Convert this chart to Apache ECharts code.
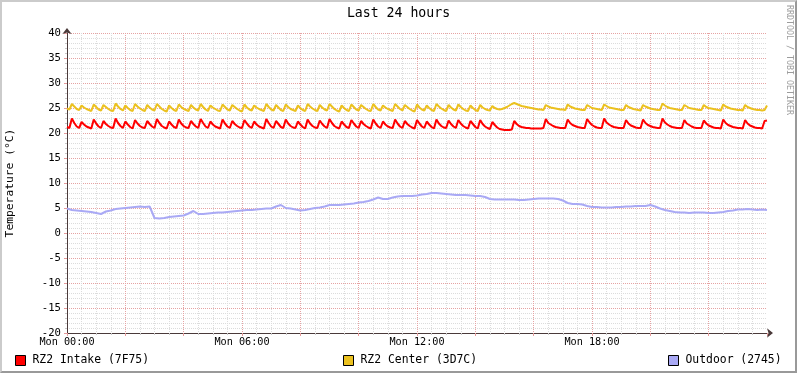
<!DOCTYPE html>
<html>
<head>
<meta charset="utf-8">
<script src="https://cdn.jsdelivr.net/npm/echarts@6/dist/echarts.min.js"></script>
<style>
  html, body { margin: 0; padding: 0; background: #fff; }
  #wrap { position: relative; width: 797px; height: 373px; }
  #c { position: absolute; left: 0; top: 0; width: 797px; height: 373px; }
  #frame { position: absolute; left: 0; top: 0; width: 797px; height: 373px; box-sizing: border-box;
    border-top: 2px solid #cbcbcb; border-left: 2px solid #cbcbcb;
    border-right: 2px solid #999; border-bottom: 2px solid #999; pointer-events: none; }
</style>
</head>
<body>
<div id="wrap"><div id="c"></div><div id="frame"></div></div>
<script>
// ---- data (5-minute samples for the two rack sensors, 10-minute samples for outdoor) ----
const seriesNames = ['RZ2 Intake (7F75)', 'RZ2 Center (3D7C)', 'Outdoor (2745)'];
const xTickLabels = ['Mon 00:00', 'Mon 06:00', 'Mon 12:00', 'Mon 18:00'];
const rackStepMinutes = 5;
const outdoorStepMinutes = 10;

const intake = [
  21.2,21.0,
  22.9,22.0,21.3,21.0,
  22.2,21.7,21.3,21.1,20.9,
  22.7,21.9,21.3,21.0,
  22.4,21.8,21.4,21.1,21.0,
  22.9,22.0,21.4,21.0,
  22.3,21.7,21.2,20.9,
  22.6,21.9,21.4,21.1,21.0,
  22.4,21.8,21.3,21.0,
  22.8,22.0,21.4,21.1,20.9,
  22.3,21.7,21.2,21.0,
  22.7,21.9,21.4,21.1,21.0,
  22.4,21.8,21.3,21.0,
  22.8,22.0,21.3,21.0,
  22.3,21.7,21.3,21.1,20.9,
  22.7,21.9,21.3,21.0,
  22.4,21.8,21.4,21.1,21.0,
  22.6,21.9,21.3,21.0,
  22.3,21.7,21.3,21.1,20.9,
  22.8,22.0,21.3,21.0,
  22.4,21.8,21.2,21.0,
  22.7,21.9,21.4,21.1,21.0,
  22.3,21.7,21.2,20.9,
  22.7,21.9,21.4,21.1,21.0,
  22.5,21.8,21.3,21.0,
  22.8,22.0,21.4,21.1,20.9,
  22.3,21.7,21.2,21.0,
  22.6,21.9,21.3,21.0,
  22.4,21.8,21.4,21.1,20.9,
  22.7,21.9,21.3,21.0,
  22.3,21.7,21.3,21.1,21.0,
  22.7,21.9,21.3,21.0,
  22.4,21.8,21.4,21.1,20.9,
  22.6,21.9,21.3,21.0,
  22.3,21.7,21.2,20.9,
  22.7,21.9,21.4,21.1,21.0,
  22.5,21.8,21.3,21.0,
  22.6,21.9,21.4,21.1,20.9,
  22.4,21.8,21.2,20.9,
  22.6,21.8,21.3,21.0,20.8,
  22.2,21.6,21.1,20.8,
  20.7,20.6,20.6,20.6,20.7,
  22.4,
  21.8,21.4,21.2,21.1,21.0,21.0,20.9,20.9,20.9,20.9,20.9,21.0,
  22.8,22.0,21.7,21.4,21.2,21.1,21.0,21.0,21.0,
  22.7,22.0,21.6,21.4,21.2,21.1,21.0,21.0,
  22.8,22.1,21.6,21.3,21.1,21.0,21.0,
  22.9,22.1,21.7,21.4,21.2,21.1,21.0,21.0,21.0,
  22.6,21.9,21.5,21.3,21.1,21.0,21.0,
  22.7,22.0,21.6,21.4,21.2,21.1,21.0,21.0,
  22.9,22.1,21.7,21.4,21.2,21.1,21.0,21.0,21.0,
  22.6,21.9,21.6,21.3,21.1,21.0,21.0,21.0,
  22.5,21.9,21.5,21.3,21.1,21.0,21.0,20.9,
  22.7,22.0,21.6,21.4,21.2,21.1,21.0,21.0,20.9,
  22.6,21.9,21.5,21.3,21.1,21.0,21.0,20.9,
  22.4,22.5
];

const center = [
  24.9,24.7,
  25.8,25.3,24.8,24.6,
  25.5,25.1,24.8,24.6,24.4,
  25.7,25.2,24.7,24.5,
  25.6,25.2,24.8,24.5,24.4,
  25.9,25.3,24.8,24.5,
  25.5,25.0,24.6,24.4,
  25.8,25.3,24.9,24.6,24.4,
  25.6,25.1,24.7,24.5,
  25.8,25.3,24.8,24.5,24.3,
  25.5,25.0,24.6,24.4,
  25.7,25.2,24.8,24.6,24.4,
  25.6,25.1,24.7,24.5,
  25.8,25.2,24.7,24.4,
  25.5,25.1,24.8,24.5,24.4,
  25.7,25.2,24.7,24.5,
  25.6,25.2,24.8,24.5,24.3,
  25.7,25.1,24.7,24.5,
  25.5,25.1,24.8,24.6,24.4,
  25.8,25.2,24.7,24.5,
  25.6,25.1,24.6,24.4,
  25.7,25.2,24.8,24.6,24.4,
  25.5,25.0,24.6,24.4,
  25.8,25.3,24.9,24.6,24.4,
  25.6,25.1,24.7,24.5,
  25.8,25.3,24.8,24.5,24.3,
  25.5,25.0,24.6,24.4,
  25.7,25.2,24.7,24.5,
  25.6,25.2,24.8,24.5,24.4,
  25.8,25.2,24.7,24.5,
  25.5,25.1,24.8,24.6,24.4,
  25.8,25.3,24.8,24.5,
  25.6,25.2,24.8,24.5,24.3,
  25.7,25.1,24.7,24.5,
  25.5,25.0,24.6,24.4,
  25.8,25.3,24.9,24.6,24.4,
  25.6,25.1,24.7,24.5,
  25.7,25.2,24.8,24.5,24.4,
  25.5,25.0,24.6,24.4,
  25.6,25.1,24.8,24.6,24.5,
  25.4,25.0,24.8,24.7,
  24.8,25.0,25.2,25.5,25.8,
  26.0,
  25.8,25.6,25.4,25.3,25.2,25.1,25.0,24.9,24.8,24.7,24.7,24.6,
  25.6,25.3,25.1,25.0,24.9,24.8,24.7,24.7,24.6,
  25.7,25.3,25.1,24.9,24.8,24.7,24.6,24.6,
  25.6,25.3,25.0,24.9,24.8,24.7,24.6,
  25.7,25.4,25.1,25.0,24.9,24.8,24.7,24.6,24.6,
  25.6,25.2,25.0,24.8,24.7,24.6,24.5,
  25.6,25.3,25.1,24.9,24.8,24.7,24.6,24.6,
  25.9,25.5,25.2,25.0,24.9,24.8,24.7,24.6,24.6,
  25.6,25.3,25.0,24.9,24.8,24.7,24.6,24.6,
  25.6,25.2,25.0,24.9,24.8,24.7,24.6,24.5,
  25.7,25.3,25.1,24.9,24.8,24.7,24.6,24.6,24.5,
  25.6,25.2,25.0,24.8,24.7,24.6,24.6,24.5,
  24.6,25.5
];

const outdoor = [
  4.9,4.6,4.5,4.4,4.3,4.2,4.0,3.8,4.3,4.5,
  4.8,4.9,5.0,5.1,5.2,5.3,5.2,5.3,3.0,2.9,
  3.0,3.2,3.3,3.4,3.5,3.9,4.4,3.8,3.8,3.9,
  4.0,4.1,4.1,4.2,4.3,4.4,4.5,4.6,4.6,4.7,
  4.8,4.9,4.9,5.3,5.6,5.0,4.9,4.7,4.5,4.6,
  4.8,5.0,5.1,5.3,5.6,5.6,5.6,5.7,5.8,5.9,
  6.1,6.2,6.4,6.7,7.1,6.8,6.8,7.1,7.3,7.4,
  7.4,7.4,7.5,7.7,7.8,8.0,8.0,7.9,7.8,7.7,
  7.6,7.6,7.6,7.5,7.4,7.4,7.2,6.8,6.7,6.7,
  6.7,6.7,6.7,6.6,6.6,6.7,6.8,6.9,6.9,6.9,
  6.9,6.8,6.5,6.0,5.8,5.8,5.7,5.4,5.2,5.2,
  5.1,5.1,5.1,5.2,5.2,5.3,5.3,5.4,5.4,5.4,
  5.6,5.3,4.9,4.6,4.4,4.2,4.1,4.1,4.0,4.1,
  4.1,4.1,4.0,4.0,4.1,4.2,4.4,4.5,4.7,4.7,
  4.8,4.7,4.6,4.7,4.6
];

const colors = ['#FF0000', '#EBC11F', '#A9A9F5'];
const mono = '"DejaVu Sans Mono", monospace';

const chart = echarts.init(document.getElementById('c'), null, { renderer: 'canvas' });

function mkSeries(name, values, step, color) {
  return {
    name: name,
    type: 'line',
    data: values.map((v, i) => [i * step, v]),
    showSymbol: false,
    symbol: 'none',
    smooth: false,
    lineStyle: { color: color, width: 2 },
    itemStyle: { color: color },
    emphasis: { disabled: true },
    z: 3
  };
}

const legendBase = {
  orient: 'horizontal', top: 355, padding: 0, itemWidth: 10, itemHeight: 10,
  icon: 'rect', selectedMode: false,
  itemStyle: { borderColor: '#000', borderWidth: 1 },
  textStyle: { fontFamily: mono, fontSize: 11.4, color: '#000', padding: [0, 0, 0, 2] }
};

chart.setOption({
  animation: false,
  backgroundColor: '#fff',
  title: {
    text: 'Last 24 hours', left: 'center', top: 7, padding: 0,
    textStyle: { fontFamily: mono, fontSize: 13.2, fontWeight: 'normal', color: '#000' }
  },
  legend: [
    Object.assign({}, legendBase, { data: [seriesNames[0]], left: 15 }),
    Object.assign({}, legendBase, { data: [seriesNames[1]], left: 343 }),
    Object.assign({}, legendBase, { data: [seriesNames[2]], left: 668 })
  ],
  grid: { left: 67, right: 30, top: 33, bottom: 40, containLabel: false, outerBoundsMode: 'none' },
  xAxis: {
    type: 'value', min: 0, max: 1440, interval: 120,
    axisLine: { show: true, onZero: false, lineStyle: { color: '#4a3a3a', width: 1 },
      symbol: ['none', 'arrow'], symbolSize: [7, 6], symbolOffset: [0, 6] },
    axisTick: { show: true, length: 3, lineStyle: { color: '#e59a9a' } },
    minorTick: { show: true, splitNumber: 4, length: 2, lineStyle: { color: '#c8c8c8' } },
    axisLabel: {
      fontFamily: mono, fontSize: 10.2, color: '#000', margin: 4,
      showMaxLabel: false,
      formatter: v => (v % 360 === 0 && v < 1440) ? xTickLabels[v / 360] : ''
    },
    splitLine: { show: true, showMaxLine: false, lineStyle: { color: '#e6a3a3', type: [1, 1], width: 1 } },
    minorSplitLine: { show: true, lineStyle: { color: '#dcdcdc', type: [1, 1], width: 1 } }
  },
  yAxis: {
    type: 'value', min: -20, max: 40, interval: 5,
    name: 'Temperature (°C)', nameLocation: 'middle', nameGap: 51,
    nameTextStyle: { fontFamily: mono, fontSize: 11.3, color: '#000' },
    axisLine: { show: true, onZero: false, lineStyle: { color: '#4a3a3a', width: 1 },
      symbol: ['none', 'arrow'], symbolSize: [7, 6], symbolOffset: [0, 5] },
    axisTick: { show: true, length: 3, lineStyle: { color: '#e59a9a' } },
    minorTick: { show: true, splitNumber: 5, length: 2, lineStyle: { color: '#c8c8c8' } },
    axisLabel: { fontFamily: mono, fontSize: 10.6, color: '#000', margin: 6 },
    splitLine: { show: true, showMinLine: false, lineStyle: { color: '#e6a3a3', type: [1, 1], width: 1 } },
    minorSplitLine: { show: true, lineStyle: { color: '#dcdcdc', type: [1, 1], width: 1 } }
  },
  graphic: [{
    type: 'text', x: 789, y: 5, rotation: -Math.PI / 2,
    style: { text: 'RRDTOOL / TOBI OETIKER', font: '8.3px ' + mono, fill: '#9c9c9c',
      textAlign: 'left', textVerticalAlign: 'middle' }
  }],
  series: [
    mkSeries(seriesNames[0], intake, rackStepMinutes, colors[0]),
    mkSeries(seriesNames[1], center, rackStepMinutes, colors[1]),
    mkSeries(seriesNames[2], outdoor, outdoorStepMinutes, colors[2])
  ]
});
</script>
</body>
</html>
